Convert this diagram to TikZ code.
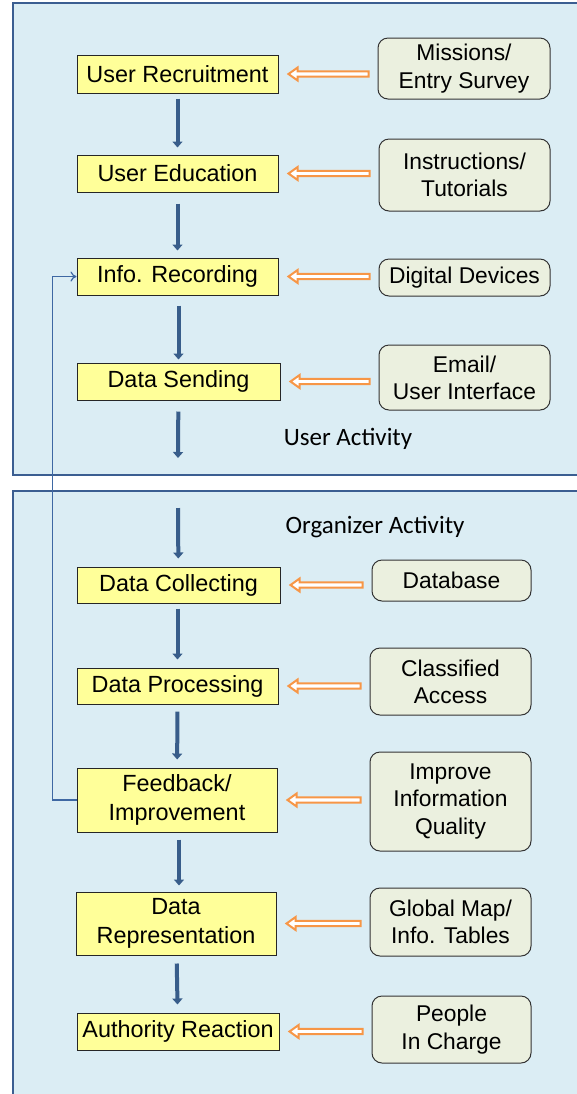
\documentclass[tikz,border=0pt]{standalone}
\usepackage{fontspec}
\setmainfont{Liberation Sans}
\newfontfamily\calfont{Carlito}
\usetikzlibrary{arrows.meta,calc}
\definecolor{panelfill}{HTML}{DBEDF4}
\definecolor{panelline}{HTML}{3B5E91}
\definecolor{ybox}{HTML}{FFFF99}
\definecolor{gbox}{HTML}{EBF0DF}
\definecolor{orangeline}{HTML}{F79646}
\definecolor{bluearrow}{HTML}{385D8A}
\definecolor{fbline}{HTML}{3E68A3}
\begin{document}
\begin{tikzpicture}[x=0.5pt,y=-0.5pt,
  panel/.style={draw=panelline,fill=panelfill,line width=1pt},
  yellowbox/.style={draw=black!85,fill=ybox,line width=0.5pt,align=center,inner sep=0pt,
     font=\fontsize{11.7}{14.2}\selectfont},
  greybox/.style={draw=black!80,fill=gbox,line width=0.5pt,rounded corners=5pt,align=center,inner sep=0pt,
     font=\fontsize{11.4}{13.6}\selectfont},
  flow/.style={draw=bluearrow,line width=2pt,-{Triangle[width=5pt,length=3pt]}},
  supply/.style={draw=orangeline,fill=white,line width=1pt,line join=miter,miter limit=10},
  fb/.style={draw=fbline,line width=0.6pt,-{To[length=3pt,width=5pt]}},
  lbl/.style={font=\calfont\fontsize{12.5}{14}\selectfont}
]
\useasboundingbox (0,0) rectangle (577,1094);
\path[panel] (13,3) rectangle (620,475);
\path[panel] (13,491) rectangle (620,1130);

% yellow steps
\node[yellowbox,minimum width=100.5pt,minimum height=19pt] (y1) at (177.5,74) {User Recruitment};
\node[yellowbox,minimum width=100.5pt,minimum height=18.5pt] (y2) at (177.5,173.5) {User Education};
\node[yellowbox,minimum width=100.5pt,minimum height=18.5pt] (y3) at (177.5,276.5) {Info. Recording};
\node[yellowbox,minimum width=101.5pt,minimum height=18.5pt] (y4) at (178.5,381.5) {Data Sending};
\node[yellowbox,minimum width=101.5pt,minimum height=18pt] (y5) at (178.5,585) {Data Collecting};
\node[yellowbox,minimum width=100.5pt,minimum height=18pt] (y6) at (177.5,686) {Data Processing};
\node[yellowbox,minimum width=100pt,minimum height=32pt] (y7) at (177,800) {Feedback/\\Improvement};
\node[yellowbox,minimum width=100pt,minimum height=31.5pt] (y8) at (176,923.5) {Data\\Representation};
\node[yellowbox,minimum width=101pt,minimum height=18.5pt] (y9) at (178,1031.5) {Authority Reaction};

% grey resources
\node[greybox,minimum width=86pt,minimum height=30.5pt] (g1) at (464,68.5) {Missions/\\Entry Survey};
\node[greybox,minimum width=85.5pt,minimum height=36pt] (g2) at (464.5,175) {Instructions/\\Tutorials};
\node[greybox,minimum width=85.5pt,minimum height=18.5pt] (g3) at (464.5,277.5) {Digital Devices};
\node[greybox,minimum width=85.5pt,minimum height=32.5pt] (g4) at (464.5,377.5) {Email/\\User Interface};
\node[greybox,minimum width=79.5pt,minimum height=20.5pt] (g5) at (451.5,580.5) {Database};
\node[greybox,minimum width=80.5pt,minimum height=33.5pt] (g6) at (450.5,681.5) {Classified\\Access};
\node[greybox,minimum width=80.5pt,minimum height=49.5pt] (g7) at (450.5,801.5) {Improve\\Information\\Quality};
\node[greybox,minimum width=80.5pt,minimum height=34pt] (g8) at (450.5,922) {Global Map/\\Info. Tables};
\node[greybox,minimum width=79.5pt,minimum height=33.5pt] (g9) at (451.5,1029.5) {People\\In Charge};

% panel labels
\node[lbl] (ua) at (348,439) {User Activity};
\node[lbl] (oa) at (375,527) {Organizer Activity};

% free ends of the flow across the panels
\coordinate (outA) at (178,458);
\coordinate (inB) at (178,508);

% main flow
\draw[flow,shorten <=2.5pt,shorten >=3.5pt] (y1) -- (y2);
\draw[flow,shorten <=5.5pt,shorten >=3.5pt] (y2) -- (y3);
\draw[flow,shorten <=5pt,shorten >=1.5pt] (y3.south -| y4) -- (y4);
\draw[flow,shorten <=5.5pt] (y4) -- (outA);
\draw[flow,shorten >=4pt] (inB) -- (y5);
\draw[flow,shorten <=2.5pt,shorten >=4pt] (y5.south -| y6) -- (y6);
\draw[flow,shorten <=3.5pt,shorten >=4pt] (y6) -- (y7);
\draw[flow,shorten <=3.5pt,shorten >=3pt] (y7.south -| 179,0) -- (y8.north -| 179,0);
\draw[flow,shorten <=4pt,shorten >=4pt] (y8) -- (y9);

% resources feeding steps (hollow block arrows from resource to step)
\foreach \i in {1,...,9}{
  \draw[supply] let \p1=($(y\i.east)+(10,0)$), \p2=($(g\i.west)+(-9,0)$) in
    (\x1,\y1) -- (\x1+4.5pt,\y1+3.2pt) -- (\x1+4.5pt,\y1+1.3pt) -- (\x2,\y1+1.3pt)
    -- (\x2,\y1-1.3pt) -- (\x1+4.5pt,\y1-1.3pt) -- (\x1+4.5pt,\y1-3.2pt) -- cycle;
}

% feedback loop
\draw[fb] (y7.west) -- ++(-24,0) |- (y3.west);
\end{tikzpicture}
\end{document}
